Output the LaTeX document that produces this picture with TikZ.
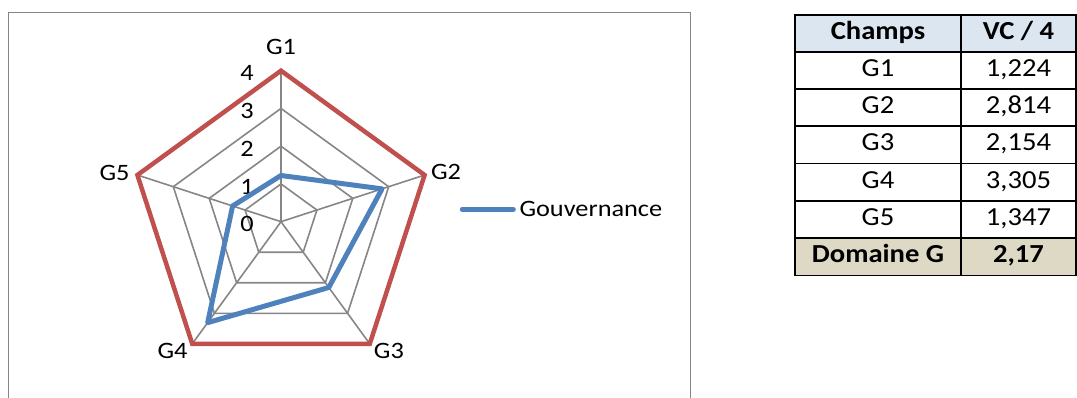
\documentclass[tikz,border=0pt]{standalone}
\usepackage{fontspec}
\setmainfont[FakeStretch=1.12]{Carlito}
\newfontfamily\tablefont[FakeStretch=1.1]{Carlito}
\usepackage{tikz}
\usetikzlibrary{positioning}
\definecolor{gridgray}{HTML}{868686}
\definecolor{maxred}{HTML}{C0504D}
\definecolor{govblue}{HTML}{4F81BD}
\definecolor{headblue}{HTML}{DCE6F1}
\definecolor{foottan}{HTML}{DDD9C4}
\tikzset{
    chartframe/.style={
                draw=gridgray,
                line width=1.4pt
            },
    gridline/.style={
                draw=gridgray,
                line width=1.6pt
            },
    maxline/.style={
                draw=maxred,
                line width=4.5pt,
                line join=miter
            },
    dataline/.style={
                draw=govblue,
                line width=5pt,
                line join=round
            },
    axislabel/.style={
                inner sep=0pt,
                font=\fontsize{23.5}{28}\selectfont
            },
    ticklabel/.style={
                inner sep=0pt,
                anchor=east,
                font=\fontsize{23.5}{28}\selectfont
            },
    cell/.style={
                draw=black,
                line width=1.8pt,
                inner sep=0pt,
                outer sep=0pt,
                minimum height=37.3pt,
                text height=17pt,
                text depth=5pt,
                font=\tablefont\fontsize{26}{30}\selectfont
            },
    namecell/.style={cell, minimum width=166pt},
    valuecell/.style={cell, minimum width=115pt},
    headcell/.style={fill=headblue, minimum height=36.7pt},
    footcell/.style={fill=foottan, minimum height=37.4pt},
}

\begin{document}
\begin{tikzpicture}[x=1pt, y=1pt]
  \useasboundingbox (0,0) rectangle (1077,398);
  % Chart frame
  \draw[chartframe] (8.3,-3) -- (8.3,385.3) -- (690.7,385.3) -- (690.7,-3);
  % Radar
  \begin{scope}[shift={(281,176.3)}]
    \coordinate (c) at (0,0);
    \foreach \i in {1,...,5}{
        \coordinate (m\i) at ({162-72*\i}:151pt);
      }
    \foreach \k in {1,...,3}{
        \draw[gridline] (90:{\k*37.75pt}) \foreach \i in {2,...,5}{ -- ({162-72*\i}:{\k*37.75pt})} -- cycle;
      }
    \foreach \i in {1,...,5}{
        \draw[gridline] (c) -- (m\i);
      }
    \foreach \k in {0,...,4}{
        \node[ticklabel] (t\k) at (-27,{\k*37.75-2.5}) {\k};
      }
    \foreach \i/\v in {1/1.224, 2/2.814, 3/2.154, 4/3.305, 5/1.347}{
        \coordinate (d\i) at ({162-72*\i}:{\v*37.75pt});
      }
    \draw[maxline] (m1) -- (m2) -- (m3) -- (m4) -- (m5) -- cycle;
    \draw[dataline] (d1) -- (d2) -- (d3) -- (d4) -- (d5) -- cycle;
    % Axis names
    \node[axislabel, yshift=23.7pt] (g1) at (m1) {G1};
    \node[axislabel, xshift=21.4pt, yshift=3pt] (g2) at (m2) {G2};
    \node[axislabel, xshift=19.2pt, yshift=-6.6pt] (g3) at (m3) {G3};
    \node[axislabel, xshift=-19.7pt, yshift=-6.6pt] (g4) at (m4) {G4};
    \node[axislabel, xshift=-22.9pt, yshift=2pt] (g5) at (m5) {G5};
  \end{scope}
  % Legend
  \node[axislabel, anchor=west] (legend) at (519.3,188.7) {Gouvernance};
  \draw[dataline, line cap=round] ([xshift=-57pt]legend.west) -- ([xshift=-6pt]legend.west);
  % Table
  \node[namecell, headcell] (champs) at (878,364.65) {\textbf{Champs}};
  \node[valuecell, headcell, right=0pt of champs] (vc) {\textbf{VC / 4}};
  \node[namecell, below=0pt of champs] (n1) {G1};
  \node[valuecell, below=0pt of vc] (v1) {1,224};
  \node[namecell, below=0pt of n1] (n2) {G2};
  \node[valuecell, below=0pt of v1] (v2) {2,814};
  \node[namecell, below=0pt of n2] (n3) {G3};
  \node[valuecell, below=0pt of v2] (v3) {2,154};
  \node[namecell, below=0pt of n3] (n4) {G4};
  \node[valuecell, below=0pt of v3] (v4) {3,305};
  \node[namecell, below=0pt of n4] (n5) {G5};
  \node[valuecell, below=0pt of v4] (v5) {1,347};
  \node[namecell, footcell, below=0pt of n5] (domaine) {\textbf{Domaine G}};
  \node[valuecell, footcell, below=0pt of v5] (total) {\textbf{2,17}};
\end{tikzpicture}
\end{document}
